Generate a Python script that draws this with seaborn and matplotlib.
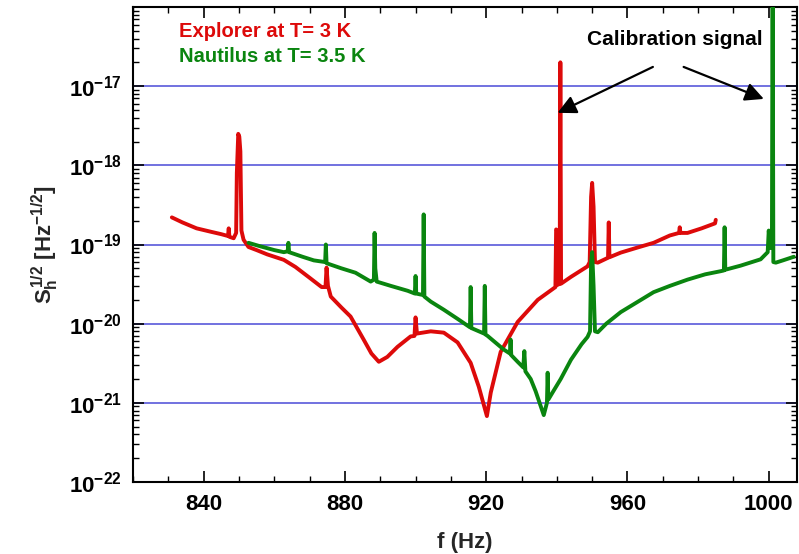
import numpy as np
import pandas as pd
import matplotlib
matplotlib.use("Agg")
import matplotlib.pyplot as plt
import matplotlib.ticker as mticker
import seaborn as sns

# ---------------- data ----------------
explorer_f = [831.0, 834, 838, 842, 845, 846.9, 847.1, 847.3, 848.5, 849.2, 849.4, 849.8, 850.1,
              850.4, 850.7, 851.3, 852.7, 855, 858, 862.7, 866, 870, 873.4, 874.5, 874.8, 875.2,
              876, 879, 881.6, 885.3, 887.5, 889.6, 892, 894.9, 898.6, 899.7, 900.0, 900.4,
              904.3, 908, 911.9, 915.6, 917.9, 920.2, 921.3, 924.1, 928.9, 934.6, 939.6, 939.8,
              940.1, 940.3, 940.8, 941.0, 941.2, 944, 948.7, 949.3, 949.7, 950.0, 950.4, 950.8,
              951.6, 954.5, 954.7, 954.9, 958.1, 963, 967.4, 972, 974.6, 974.8, 975.0, 977,
              981, 984.8, 985.0]
explorer_s = [2.2e-19, 1.9e-19, 1.6e-19, 1.45e-19, 1.35e-19, 1.28e-19, 1.6e-19, 1.25e-19, 1.2e-19,
              1.4e-19, 8e-19, 2.5e-18, 2.3e-18, 1.5e-18, 1.5e-19, 1.15e-19, 9.3e-20, 8.5e-20,
              7.5e-20, 6.4e-20, 5.2e-20, 3.8e-20, 2.9e-20, 2.9e-20, 5.1e-20, 3.0e-20, 2.2e-20,
              1.6e-20, 1.23e-20, 6.3e-21, 4.2e-21, 3.3e-21, 3.8e-21, 5.1e-21, 6.9e-21, 7.0e-21,
              1.2e-20, 7.5e-21, 8.0e-21, 7.7e-21, 5.8e-21, 3.2e-21, 1.6e-21, 6.8e-22, 1.35e-21,
              4.4e-21, 1.05e-20, 2.0e-20, 2.9e-20, 1.55e-19, 1.5e-19, 3.1e-20, 3.2e-20, 2.0e-17,
              3.2e-20, 3.9e-20, 5.3e-20, 6.0e-20, 4.0e-19, 6.0e-19, 3.0e-19, 6.0e-20, 5.9e-20,
              6.8e-20, 1.9e-19, 6.9e-20, 7.9e-20, 9.2e-20, 1.05e-19, 1.3e-19, 1.4e-19, 1.65e-19,
              1.4e-19, 1.4e-19, 1.6e-19, 1.85e-19, 2.05e-19]

nautilus_f = [852.7, 856, 860, 862.7, 863.8, 864.0, 864.2, 868, 871.2, 874.4, 874.6, 874.8, 879,
              883, 887.3, 888.2, 888.4, 888.6, 889, 893, 897.8, 899.8, 900.0, 900.2, 902.1,
              902.3, 902.5, 904.3, 908, 911.9, 915.4, 915.6, 915.8, 919.4, 919.6, 919.8, 920.4,
              925, 926.7, 926.9, 927.1, 928.9, 930.5, 930.8, 931.1, 932.6, 934, 936.3, 937.2,
              937.4, 937.6, 939, 941.1, 944, 947, 948.7, 949.4, 949.7, 950.0, 950.4, 950.8,
              951.6, 954, 958.1, 963, 967.4, 972, 977, 982, 986.4, 987.3, 987.5, 987.7, 992,
              997.7, 999.7, 1000.0, 1000.4, 1000.9, 1001.1, 1001.3, 1002, 1004, 1007.1]
nautilus_s = [1.05e-19, 9.5e-20, 8.5e-20, 8.0e-20, 8.2e-20, 1.05e-19, 8.0e-20, 7.0e-20, 6.3e-20,
              6.0e-20, 1.0e-19, 5.8e-20, 5.0e-20, 4.4e-20, 3.4e-20, 3.6e-20, 1.4e-19, 5.0e-20,
              3.4e-20, 3.0e-20, 2.6e-20, 2.4e-20, 4.0e-20, 2.4e-20, 2.3e-20, 2.4e-19, 2.2e-20,
              1.9e-20, 1.5e-20, 1.15e-20, 9.0e-21, 2.9e-20, 8.8e-21, 7.5e-21, 3.0e-20, 7.3e-21,
              7.0e-21, 4.7e-21, 4.2e-21, 6.3e-21, 4.0e-21, 3.3e-21, 2.8e-21, 4.5e-21, 2.5e-21,
              2.0e-21, 1.4e-21, 7.0e-22, 1.0e-21, 2.4e-21, 1.1e-21, 1.4e-21, 2.0e-21, 3.5e-21,
              5.5e-21, 6.8e-21, 8.0e-21, 6.0e-20, 8.0e-20, 3.0e-20, 8.0e-21, 7.8e-21, 1.0e-20,
              1.4e-20, 1.9e-20, 2.5e-20, 3.0e-20, 3.6e-20, 4.2e-20, 4.6e-20, 4.7e-20, 1.65e-19,
              4.8e-20, 5.4e-20, 6.5e-20, 8.0e-20, 1.5e-19, 9.0e-20, 1.0e-19, 5.0e-16, 6.0e-20,
              5.9e-20, 6.3e-20, 7.0e-20]

series_labels = ["Explorer at T= 3 K", "Nautilus at T= 3.5 K"]
x_ticks = [840, 880, 920, 960, 1000]
y_ticks = [1e-22, 1e-21, 1e-20, 1e-19, 1e-18, 1e-17]

# ---------------- styling ----------------
sns.set_style("ticks")
plt.rcParams["font.family"] = ["Liberation Sans", "DejaVu Sans"]
plt.rcParams["font.weight"] = "bold"
plt.rcParams["mathtext.fontset"] = "custom"
plt.rcParams["mathtext.rm"] = "Liberation Sans:bold"
plt.rcParams["mathtext.it"] = "Liberation Sans:bold"
plt.rcParams["mathtext.bf"] = "Liberation Sans:bold"

red = "#dd0a0a"
green = "#0a850f"

df = pd.concat([
    pd.DataFrame({"f": explorer_f, "S": explorer_s, "det": series_labels[0]}),
    pd.DataFrame({"f": nautilus_f, "S": nautilus_s, "det": series_labels[1]}),
])

fig = plt.figure(figsize=(7.99, 5.54), dpi=100)
ax = fig.add_axes([133 / 799, 1 - 482 / 554, (797 - 133) / 799, (482 - 7) / 554])

ax.set_yscale("log")
for y in y_ticks[1:]:
    ax.axhline(y, color="#4b4bd8", lw=1.3, alpha=0.85, zorder=0)

sns.lineplot(data=df, x="f", y="S", hue="det", hue_order=series_labels,
             palette=[red, green], estimator=None, sort=False, lw=2.8,
             legend=False, ax=ax, zorder=3)

ax.set_xlim(820, 1008)
ax.set_ylim(1e-22, 1e-16)

ax.set_xticks(x_ticks)
ax.xaxis.set_minor_locator(mticker.MultipleLocator(10))
ax.yaxis.set_major_locator(mticker.FixedLocator(y_ticks))
ax.yaxis.set_major_formatter(mticker.FixedFormatter(
    [r"$10^{%d}$" % int(round(np.log10(v))) for v in y_ticks]))
ax.yaxis.set_minor_locator(mticker.LogLocator(base=10, subs=np.arange(2, 10), numticks=20))
ax.yaxis.set_minor_formatter(mticker.NullFormatter())

ax.tick_params(which="both", direction="in", top=True, right=True, colors="black",
               labelsize=16)
ax.tick_params(which="major", length=8, width=1.2)
ax.tick_params(which="minor", length=4, width=1.0)
for lab in ax.get_xticklabels() + ax.get_yticklabels():
    lab.set_fontweight("bold")
ax.tick_params(axis="x", pad=9)
ax.tick_params(axis="y", pad=8)

for sp in ax.spines.values():
    sp.set_linewidth(1.5)
    sp.set_color("black")

ax.set_xlabel("f (Hz)", fontsize=16, fontweight="bold", labelpad=12)
ax.set_ylabel(r"$S_h^{1/2}$ [Hz$^{-1/2}$]", fontsize=16, fontweight="bold", labelpad=6)

ax.text(0.07, 0.948, series_labels[0], transform=ax.transAxes, color=red,
        fontsize=14.5, fontweight="bold", va="center", ha="left")
ax.text(0.07, 0.895, series_labels[1], transform=ax.transAxes, color=green,
        fontsize=14.5, fontweight="bold", va="center", ha="left")

ax.text(973.5, 3.9e-17, "Calibration signal", fontsize=15, fontweight="bold",
        ha="center", va="center", color="black", zorder=5)
arrow = dict(arrowstyle="-|>", color="black", lw=1.6, mutation_scale=28,
             shrinkA=0, shrinkB=0)
ax.annotate("", xy=(940.2, 4.6e-18), xytext=(967.2, 1.75e-17), arrowprops=arrow, zorder=5)
ax.annotate("", xy=(998.6, 6.9e-18), xytext=(975.9, 1.75e-17), arrowprops=arrow, zorder=5)

fig.savefig("out.png", dpi=100)
